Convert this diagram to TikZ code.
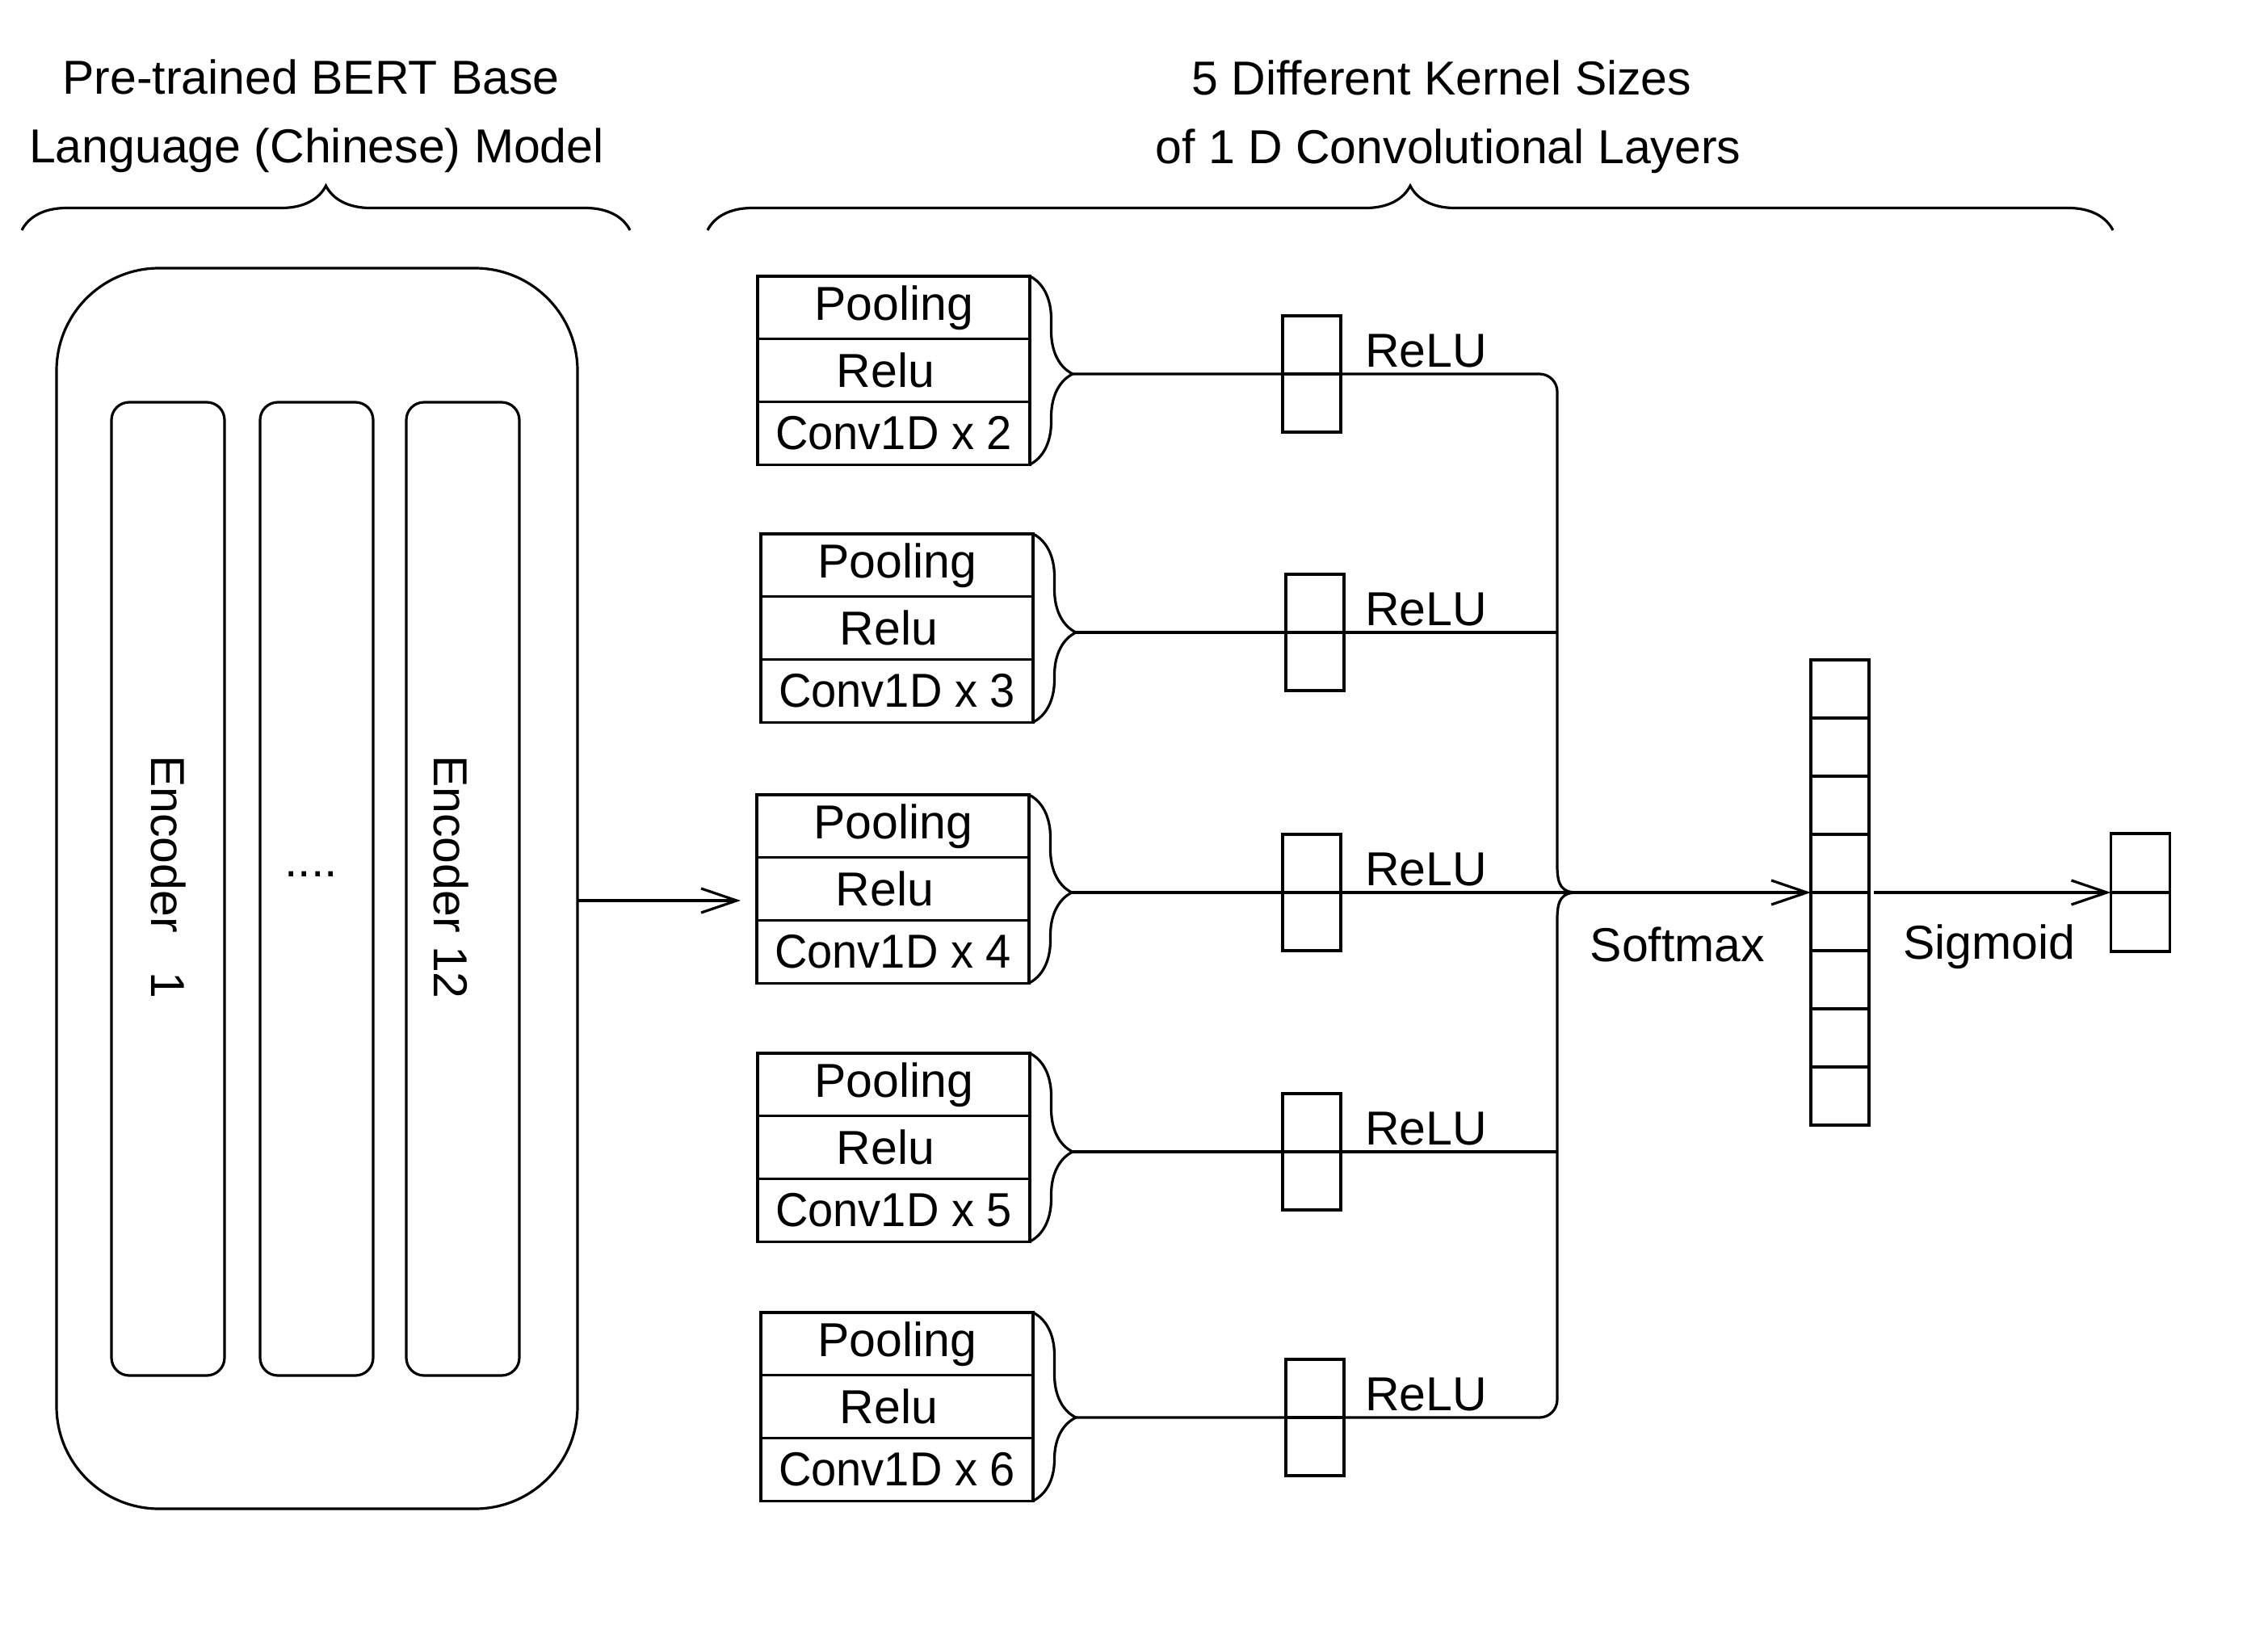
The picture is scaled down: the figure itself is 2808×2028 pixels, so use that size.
\documentclass[tikz,border=0pt]{standalone}
\usepackage{fontspec}
\setmainfont{Liberation Sans}
\newfontfamily\narrowf[FakeStretch=0.95]{Liberation Sans}
\usetikzlibrary{arrows.meta,decorations.pathreplacing,calc}

\newcommand\convblk[6]{%
  \pgfmathsetmacro\asp{(#5-#3)/233.1}%
  \node[cell, anchor=north west] (pool#1) at (#2,#3) {Pooling};
  \node[cell, anchor=north] (relu#1) at (pool#1.south) {\hspace*{-20pt}Relu};
  \node[cell, anchor=north] (conv#1) at (relu#1.south) {\narrowf Conv1D x #4};
  \draw[ln, decorate, decoration={brace, amplitude=53pt, aspect=\asp}] (pool#1.north east) -- (conv#1.south east);
  \coordinate (tip#1) at ($(pool#1.north east)+(53,#5-#3)$);
  \node[rcell, anchor=south west] (ra#1) at (#6,#5) {};
  \node[rcell, anchor=north west] (rb#1) at (#6,#5) {};
  \node[anchor=base west] (rl#1) at (1690,#5-9) {ReLU};
}

\begin{document}
\begin{tikzpicture}[x=1pt,y=-1pt,
  every node/.style={font=\fontsize{59}{70}\selectfont, inner sep=0pt, outer sep=0pt},
  ln/.style={line width=3.2pt},
  cell/.style={ln, draw, minimum width=337pt, minimum height=77.7pt},
  rcell/.style={ln, draw, minimum width=72pt, minimum height=72pt},
  arr/.style={ln, -{Straight Barb[length=44pt,width=30pt]}},
  bracetop/.style={ln, decorate, decoration={brace, amplitude=55pt}}
]
\useasboundingbox (0,0) rectangle (2808,2028);
\fill[white] (0,0) rectangle (2808,2028);

% titles
\node[anchor=base] (t1) at (385,117) {Pre-trained BERT Base};
\node[anchor=base] (t2) at (392,202) {Language (Chinese) Model};
\node[anchor=base] (t3) at (1785,118) {5 Different Kernel Sizes};
\node[anchor=base] (t4) at (1793,203) {of 1 D Convolutional Layers};
\draw[bracetop] (27,285) -- (780,285);
\draw[bracetop] (876,285) -- (2616,285);

% BERT block
\node[ln, draw, rounded corners=127pt, minimum width=645pt, minimum height=1536pt, anchor=north west] (bert) at (70,332) {};
\node[ln, draw, rounded corners=22pt, minimum width=140pt, minimum height=1205pt, anchor=north west] (enc1) at (138,498) {};
\node[ln, draw, rounded corners=22pt, minimum width=140pt, minimum height=1205pt, anchor=north west] (enc2) at (322,498) {};
\node[ln, draw, rounded corners=22pt, minimum width=140pt, minimum height=1205pt, anchor=north west] (enc3) at (503,498) {};
\node[rotate=-90, anchor=base west] (e1t) at (187,935) {Encoder\ \ \ 1};
\node[rotate=-90, anchor=base west] (e12t) at (537,935) {Encoder 12};
\node[anchor=base] (dots) at (385,1085) {....};

% conv blocks
\convblk{1}{938}{342}{2}{463}{1588}
\convblk{2}{942}{661}{3}{783}{1592}
\convblk{3}{937}{984}{4}{1105}{1588}
\convblk{4}{938}{1304}{5}{1426}{1588}
\convblk{5}{942}{1625}{6}{1755}{1592}

\coordinate (in3) at (917,1115);
\draw[arr] (bert.east |- in3) -- (in3);

% merge
\coordinate (jn) at (1928,1105);
\draw[ln, rounded corners=22pt] (tip1) -- (tip1 -| jn) -- ($(jn)+(0,-33)$);
\draw[ln] ($(jn)+(0,-33)$) .. controls ($(jn)+(0,-8)$) and ($(jn)+(6,0)$) .. ($(jn)+(25,0)$);
\draw[ln, rounded corners=22pt] (tip5) -- (tip5 -| jn) -- ($(jn)+(0,33)$);
\draw[ln] ($(jn)+(0,33)$) .. controls ($(jn)+(0,8)$) and ($(jn)+(6,0)$) .. ($(jn)+(25,0)$);
\draw[ln] (tip2) -- (tip2 -| jn);
\draw[ln] (tip4) -- (tip4 -| jn);

% softmax column
\node[ln, draw, minimum width=72pt, minimum height=576pt] (sm) at (2278,1105) {};
\foreach \k in {1,...,7} \draw[ln] ($(sm.north west)+(0,72*\k)$) -- ++(72,0);
\draw[arr] (tip3) -- (sm.west);
\node[anchor=base] (smlab) at (2077,1190) {Softmax};

% output
\node[ln, draw, minimum width=73pt, minimum height=146pt] (out) at (2650,1105) {};
\draw[ln] (out.west) -- (out.east);
\draw[arr] ($(sm.east)+(6,0)$) -- (out.west);
\node[anchor=base] (siglab) at (2463,1187) {Sigmoid};
\end{tikzpicture}
\end{document}
